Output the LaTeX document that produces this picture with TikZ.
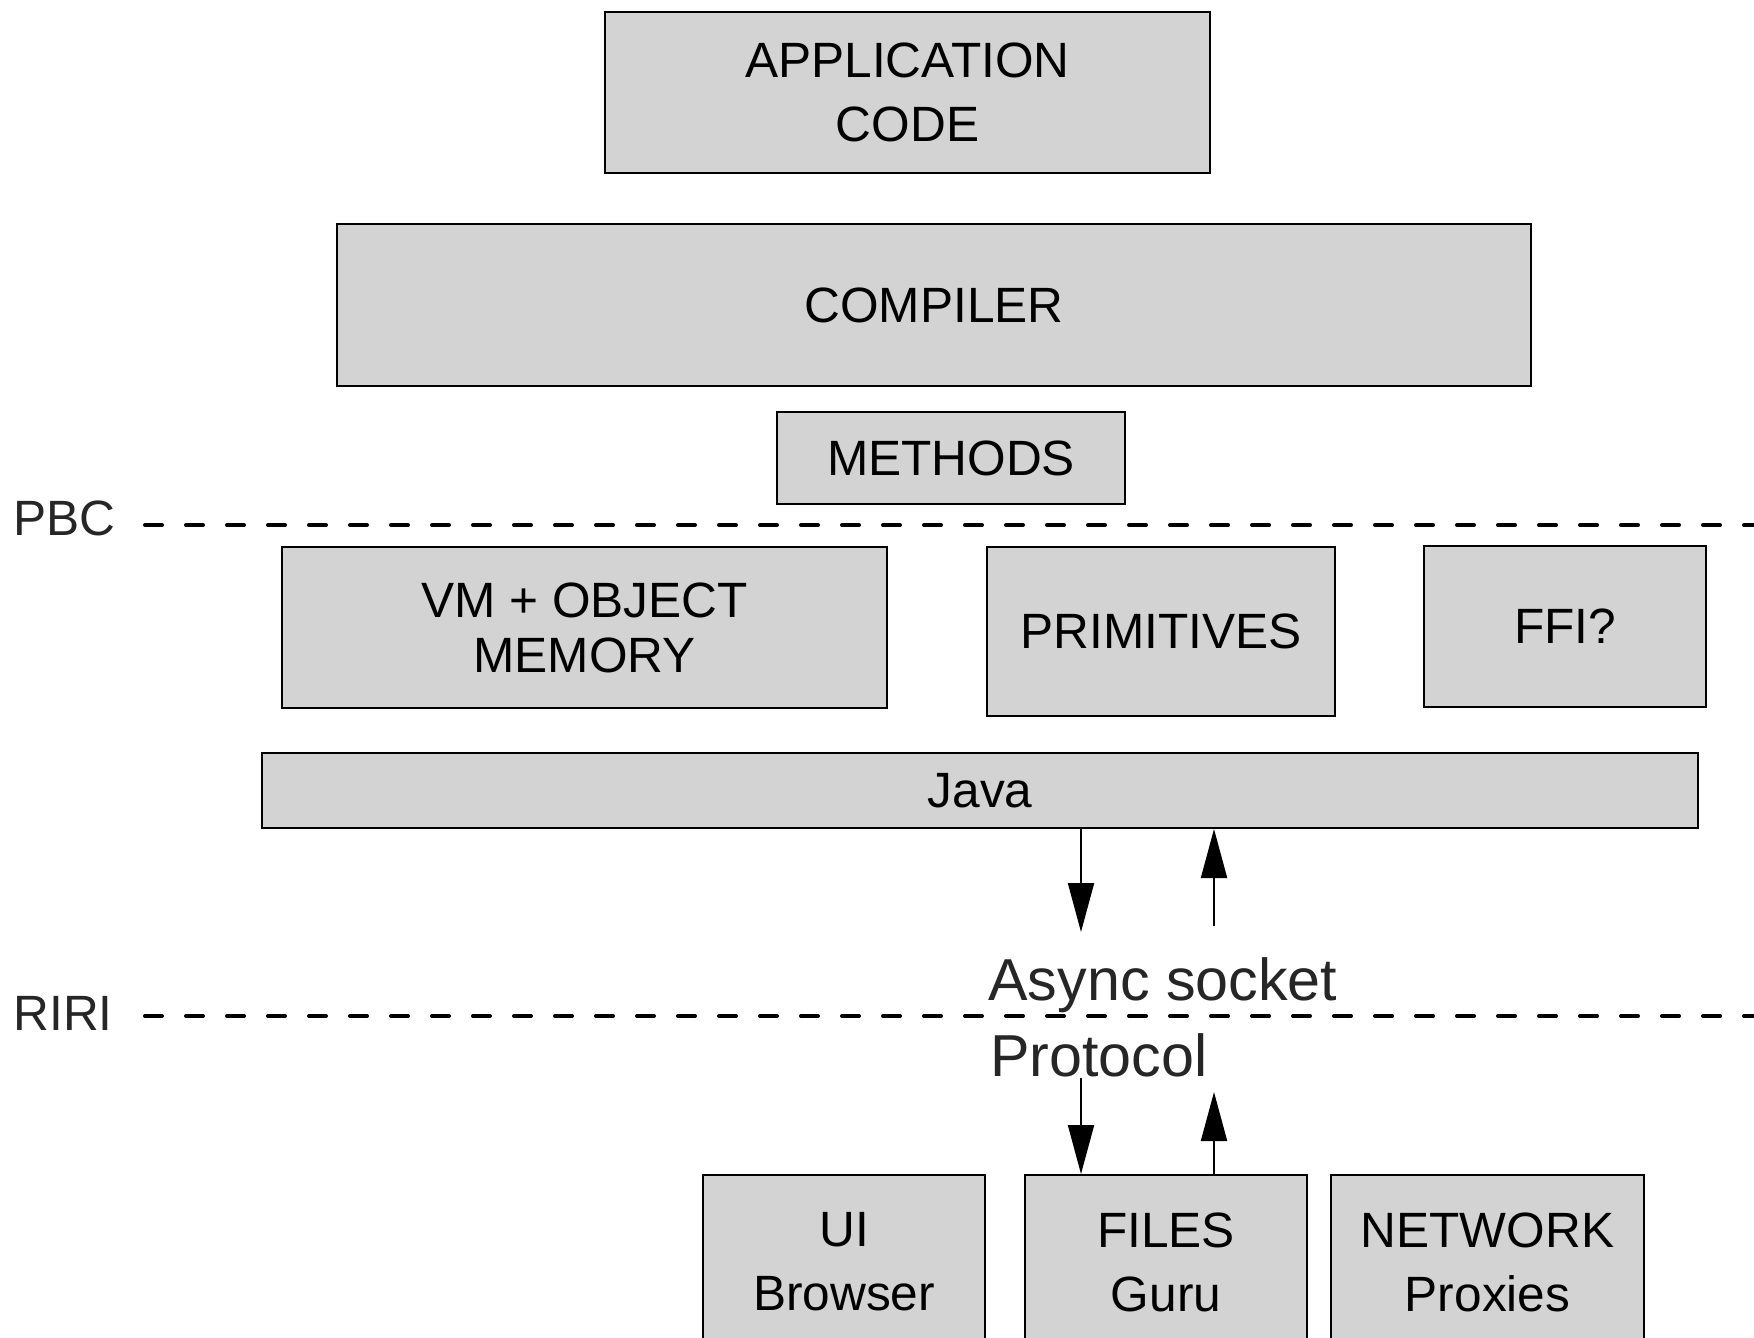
\documentclass[tikz,border=0pt]{standalone}
\usepackage{fontspec}
\setmainfont{Liberation Sans}
\usetikzlibrary{arrows.meta}
\definecolor{boxfill}{RGB}{211,211,211}
\definecolor{labelgray}{RGB}{38,38,38}
\tikzset{
  layerbox/.style={draw=black, line width=1pt, fill=boxfill, inner sep=0pt,
    align=center, text=black, font=\fontsize{24.8}{32}\selectfont},
  sidelabel/.style={text=labelgray, inner sep=0pt, anchor=base west,
    font=\fontsize{24.8}{30}\selectfont},
  socklabel/.style={text=labelgray, inner sep=0pt, anchor=base west,
    font=\fontsize{29.6}{36}\selectfont},
  boundary/.style={draw=black, line width=2pt, line cap=round,
    dash pattern=on 8.5pt off 12pt},
  flow/.style={draw=black, line width=1pt,
    -{Triangle[length=24.5pt, width=13pt]}}
}
\begin{document}
\begin{tikzpicture}[x=0.5pt, y=-0.5pt]
\useasboundingbox (0,0) rectangle (1754,1337);
\clip (0,0) rectangle (1754,1337);
\fill[white] (0,0) rectangle (1754,1337);

% upper layers
\node[layerbox, minimum width=302.5pt, minimum height=80.5pt] (app) at (907.5,92.5) {APPLICATION\\CODE};
\node[layerbox, minimum width=597pt, minimum height=81pt] (compiler) at (934,305) {COMPILER};
\node[layerbox, minimum width=174pt, minimum height=46pt] (methods) at (951,458) {METHODS};

% PBC boundary
\node[sidelabel] (pbc) at (13,535) {PBC};
\coordinate (pbcL) at (145,525);
\coordinate (pbcR) at (1754,525);
\draw[boundary] (pbcL) -- (pbcR);

% VM layer
\node[layerbox, minimum width=302.5pt, minimum height=80.5pt,
  font=\fontsize{24.8}{27.5}\selectfont] (vm) at (584.5,627.5) {VM + OBJECT\\MEMORY};
\node[layerbox, minimum width=174pt, minimum height=84.5pt] (prims) at (1161,631.5) {PRIMITIVES};
\node[layerbox, minimum width=141pt, minimum height=80.5pt] (ffi) at (1565,626.5) {FFI?};
\node[layerbox, minimum width=718pt, minimum height=37.5pt] (java) at (980,790.5) {Java};

% socket labels
\node[socklabel] (async) at (988,1000) {Async socket};
\node[socklabel] (protocol) at (990,1076) {Protocol};

% RIRI boundary
\node[sidelabel] (riri) at (13,1030) {RIRI};
\coordinate (ririL) at (145,1016);
\coordinate (ririR) at (1754,1016);
\draw[boundary] (ririL) -- (ririR);

% bottom services
\node[layerbox, minimum width=141pt, minimum height=87pt] (ui) at (844,1262) {UI\\Browser};
\node[layerbox, minimum width=141pt, minimum height=87pt] (files) at (1166,1262) {FILES\\Guru};
\node[layerbox, minimum width=156.5pt, minimum height=87pt] (network) at (1487.5,1262) {NETWORK\\Proxies};

% arrows
\coordinate (downA) at (1081,932);
\coordinate (upA) at (1214,926);
\coordinate (downB) at (1081,1078);
\coordinate (upB) at (1214,1092);
\draw[flow] (java.south -| downA) -- (downA);
\draw[flow] (upA) -- (java.south -| upA);
\draw[flow] (downB) -- (files.north -| downB);
\draw[flow] (files.north -| upB) -- (upB);
\end{tikzpicture}
\end{document}
